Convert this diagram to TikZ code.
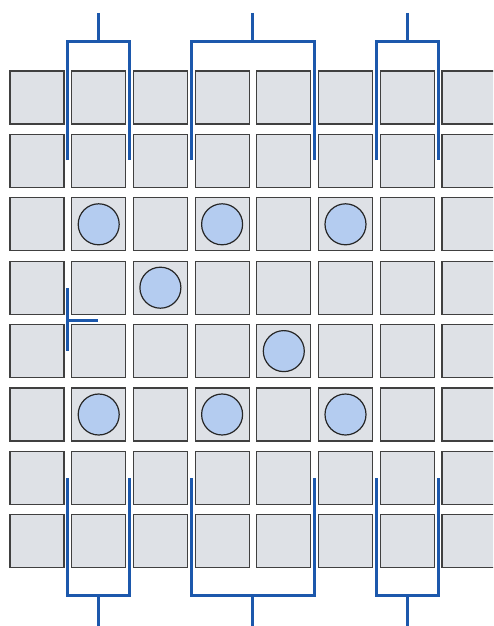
\documentclass[tikz,border=0pt]{standalone}
\definecolor{cellgray}{RGB}{222,225,230}
\definecolor{dotblue}{RGB}{180,204,240}
\definecolor{bracketblue}{RGB}{28,88,172}
\begin{document}
\begin{tikzpicture}[x=1pt,y=-1pt,
  cell/.style={draw=black!75, fill=cellgray, line width=1.2pt, minimum width=54pt, minimum height=53pt, inner sep=0pt, outer sep=0pt},
  dot/.style={circle, draw=black!85, fill=dotblue, line width=1.2pt, minimum size=41pt, inner sep=0pt},
  bracket/.style={draw=bracketblue, line width=3pt}]
\useasboundingbox (0,0) rectangle (493,626);
\clip (0,0) rectangle (493,626);
\fill[white] (0,0) rectangle (493,626);
\foreach \r in {0,...,7}
  \foreach \c in {0,...,7}
    \node[cell] (s\r\c) at ({37+61.7*\c},{97.5+63.4*\r}) {};
% circles
\node[dot] (d1) at (s21) {};
\node[dot] (d2) at (s23) {};
\node[dot] (d3) at (s25) {};
\node[dot] (d4) at (s32) {};
\node[dot] (d5) at (s44) {};
\node[dot] (d6) at (s51) {};
\node[dot] (d7) at (s53) {};
\node[dot] (d8) at (s55) {};
% top brackets
\coordinate (tl1) at (67.9,160); \coordinate (tr1) at (129.5,160);
\coordinate (tm1) at (98.7,42);  \coordinate (ts1) at (98.7,13);
\coordinate (tl2) at (191.2,160); \coordinate (tr2) at (314.6,160);
\coordinate (tm2) at (252.9,42);  \coordinate (ts2) at (252.9,13);
\coordinate (tl3) at (376.3,160); \coordinate (tr3) at (438,160);
\coordinate (tm3) at (407.2,42);  \coordinate (ts3) at (407.2,13);
% bottom brackets
\coordinate (bl1) at (67.9,478); \coordinate (br1) at (129.5,478);
\coordinate (bm1) at (98.7,595);  \coordinate (bs1) at (98.7,627);
\coordinate (bl2) at (191.2,478); \coordinate (br2) at (314.6,478);
\coordinate (bm2) at (252.9,595);  \coordinate (bs2) at (252.9,627);
\coordinate (bl3) at (376.3,478); \coordinate (br3) at (438,478);
\coordinate (bm3) at (407.2,595);  \coordinate (bs3) at (407.2,627);
\foreach \i in {1,2,3}{
  \draw[bracket] (tl\i) |- (tm\i) -| (tr\i);
  \draw[bracket] (ts\i) -- (tm\i);
  \draw[bracket] (bl\i) |- (bm\i) -| (br\i);
  \draw[bracket] (bs\i) -- (bm\i);
}
% cross marker
\coordinate (ca) at (67.9,288); \coordinate (cb) at (67.9,351);
\coordinate (cm) at (67.9,320); \coordinate (cc) at (98,320);
\draw[bracket] (ca) -- (cb);
\draw[bracket] (cm) -- (cc);
\end{tikzpicture}
\end{document}
